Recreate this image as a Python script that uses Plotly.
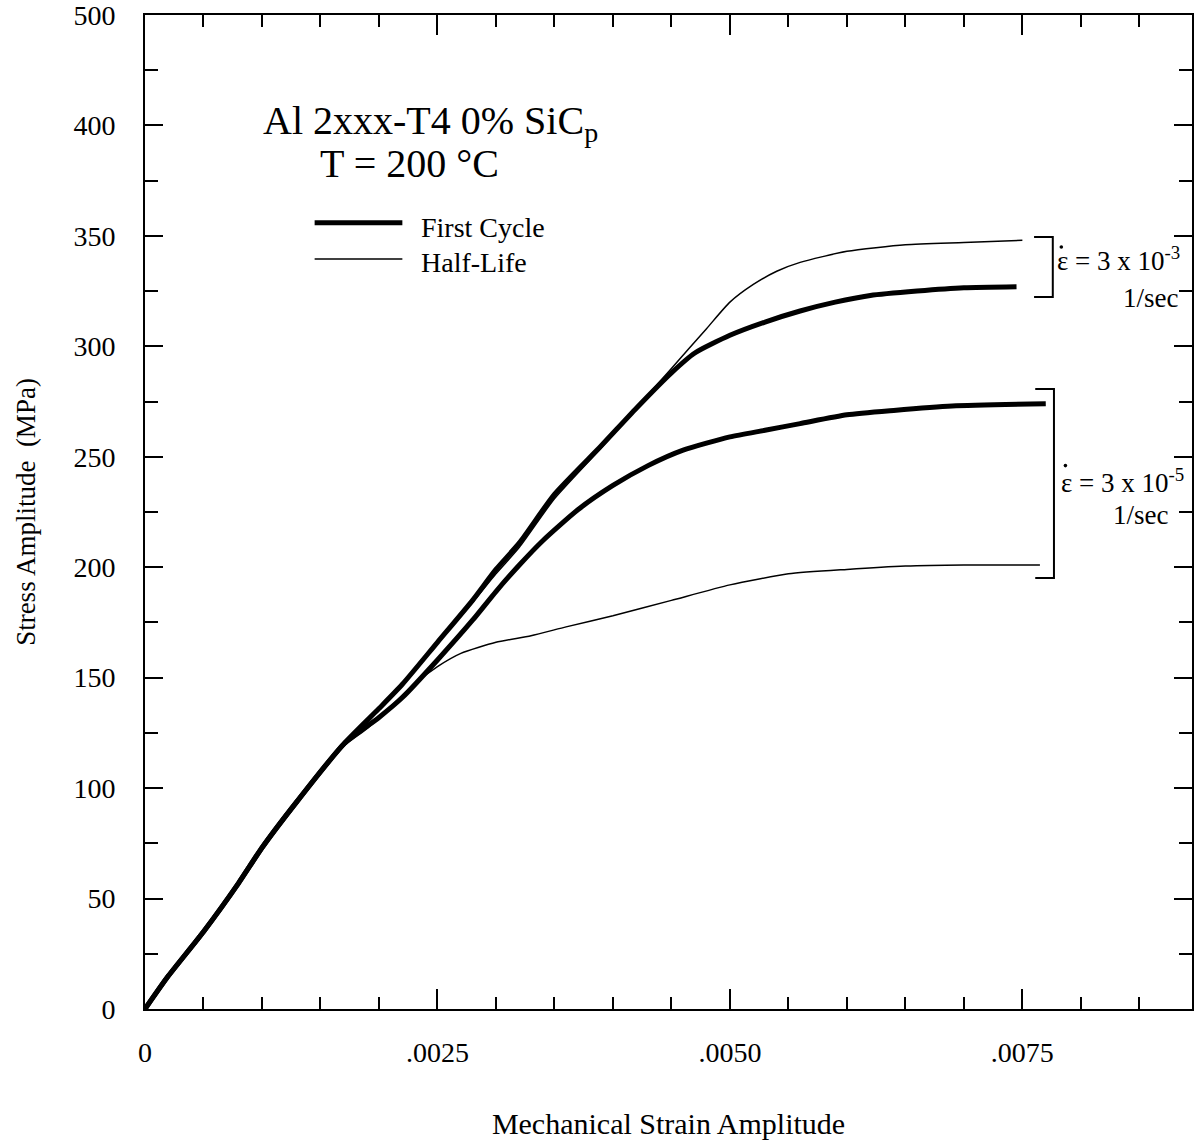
import plotly.graph_objects as go

# ---- data ----
fc_fast_x = [0, 0.0002, 0.0005, 0.0008, 0.0010, 0.0013, 0.0017, 0.0020, 0.0022, 0.0025, 0.0028, 0.0030, 0.0032,
             0.0035, 0.0039, 0.0042, 0.0045, 0.0047, 0.0050, 0.0053, 0.0056, 0.0059, 0.0062, 0.0066, 0.0070, 0.00745]
fc_fast_y = [0, 15, 35, 57, 73, 94, 120, 136, 147, 166, 185, 199, 211,
             233, 255, 272, 288, 297, 305, 311, 316, 320, 323, 325, 326.5, 327]

hl_fast_x = [0, 0.0002, 0.0005, 0.0008, 0.0010, 0.0013, 0.0017, 0.0020, 0.0022, 0.0025, 0.0028, 0.0030, 0.0032,
             0.0035, 0.0039, 0.0042, 0.0045, 0.0048, 0.0050, 0.0052, 0.0054, 0.0056, 0.0060, 0.0065, 0.0070, 0.0075]
hl_fast_y = [0, 15, 35, 57, 73, 94, 120, 136, 147, 166, 184, 197, 209,
             231, 254, 272, 290, 308, 320, 328, 334, 338, 343, 346, 347, 348]

fc_slow_x = [0, 0.0002, 0.0005, 0.0008, 0.0010, 0.0013, 0.0017, 0.0020, 0.0022, 0.0025, 0.0028, 0.0030, 0.0032,
             0.0034, 0.0037, 0.0040, 0.0043, 0.0046, 0.0050, 0.0053, 0.0056, 0.0060, 0.0064, 0.0069, 0.0077]
fc_slow_y = [0, 15, 35, 57, 73, 94, 120, 132, 141, 158, 176, 189, 201,
             212, 226, 237, 246, 253, 259, 262, 265, 269, 271, 273, 274]

hl_slow_x = [0, 0.0002, 0.0005, 0.0008, 0.0010, 0.0013, 0.0017, 0.0019, 0.0021, 0.0023, 0.0025, 0.0027, 0.0030,
             0.0033, 0.0036, 0.0040, 0.0045, 0.0050, 0.0055, 0.0060, 0.0065, 0.0070, 0.00765]
hl_slow_y = [0, 15, 35, 57, 73, 94, 119, 127, 137, 147, 155, 161, 166,
             169, 173, 178, 185, 192, 197, 199, 200.5, 201, 201]

x_tick_vals = [0, 0.0025, 0.0050, 0.0075]
x_tick_text = ["0", ".0025", ".0050", ".0075"]
y_tick_vals = [0, 50, 100, 150, 200, 250, 300, 350, 400, 450]
y_tick_text = ["0", "50", "100", "150", "200", "250", "300", "350", "400", "500"]

FONT = "Liberation Serif"
THICK = 5
THIN = 1.5

fig = go.Figure()
for xs, ys, w in [(fc_fast_x, fc_fast_y, THICK), (hl_fast_x, hl_fast_y, THIN),
                  (fc_slow_x, fc_slow_y, THICK), (hl_slow_x, hl_slow_y, THIN)]:
    fig.add_trace(go.Scatter(x=xs, y=ys, mode="lines", line=dict(color="black", width=w, shape="spline", smoothing=0.6),
                             showlegend=False, hoverinfo="skip"))

axis_common = dict(showline=True, linecolor="black", linewidth=2, mirror="ticks", ticks="inside",
                   tickcolor="black", tickwidth=2, showgrid=False, zeroline=False,
                   ticklabeloverflow="allow",
                   tickfont=dict(family=FONT, size=28, color="black"))

fig.update_xaxes(range=[0, 0.00895], tickvals=x_tick_vals, ticktext=x_tick_text, ticklen=20,
                 minor=dict(dtick=0.0005, ticklen=12, ticks="inside", tickcolor="black", tickwidth=2),
                 ticklabelstandoff=17,
                 title=dict(text="Mechanical Strain Amplitude", font=dict(family=FONT, size=30, color="black"),
                            standoff=46),
                 **axis_common)
fig.update_yaxes(range=[0, 450], tickvals=y_tick_vals, ticktext=y_tick_text, ticklen=18,
                 minor=dict(dtick=25, ticklen=13, ticks="inside", tickcolor="black", tickwidth=2),
                 ticklabelstandoff=22,
                 title=dict(text="Stress Amplitude  (MPa)", font=dict(family=FONT, size=27, color="black"),
                            standoff=30),
                 **axis_common)

ann = []
ann.append(dict(x=0.00244, y=401, text="Al 2xxx-T4 0% SiC<sub>p</sub>", showarrow=False,
                font=dict(family=FONT, size=40, color="black")))
ann.append(dict(x=0.00226, y=383, text="T = 200 °C", showarrow=False,
                font=dict(family=FONT, size=40, color="black")))
ann.append(dict(x=0.00234, y=354, text="First Cycle", showarrow=False, xanchor="left",
                font=dict(family=FONT, size=28, color="black")))
ann.append(dict(x=0.00234, y=338, text="Half-Life", showarrow=False, xanchor="left",
                font=dict(family=FONT, size=28, color="black")))
# strain-rate labels
rate_labels = [(0.00778, 339.5, "ε = 3 x 10<sup>-3</sup>", 0.00885, 322),
               (0.00781, 239, "ε = 3 x 10<sup>-5</sup>", 0.00876, 223.6)]
for (xe, ye, txt, xs_, ys_) in rate_labels:
    ann.append(dict(x=xe, y=ye, text=txt, showarrow=False, xanchor="left",
                    font=dict(family=FONT, size=27, color="black")))
    ann.append(dict(x=xs_, y=ys_, text="1/sec", showarrow=False, xanchor="right",
                    font=dict(family=FONT, size=27, color="black")))

shapes = []
# legend samples
shapes.append(dict(type="line", x0=0.00145, x1=0.00220, y0=356, y1=356, line=dict(color="black", width=THICK)))
shapes.append(dict(type="line", x0=0.00145, x1=0.00220, y0=339.5, y1=339.5, line=dict(color="black", width=THIN)))
# brackets
for (xl, xr, yt, yb) in [(0.00760, 0.00776, 349.5, 322.3), (0.00761, 0.00777, 280.7, 195.1)]:
    shapes.append(dict(type="path", path=f"M {xl} {yt} L {xr} {yt} L {xr} {yb} L {xl} {yb}",
                       line=dict(color="black", width=2)))
# rate dots over epsilon
for (dx, dy) in [(0.007833, 345.0), (0.007868, 246.0)]:
    shapes.append(dict(type="circle", xref="x", yref="y", xsizemode="pixel", ysizemode="pixel",
                       xanchor=dx, yanchor=dy, x0=-1.8, x1=1.8, y0=-1.8, y1=1.8,
                       fillcolor="black", line=dict(color="black", width=0)))

fig.update_layout(width=1194, height=1143, margin=dict(l=145, r=0, t=15, b=134),
                  plot_bgcolor="white", paper_bgcolor="white", annotations=ann, shapes=shapes,
                  font=dict(family=FONT, color="black"))

fig.write_html("out.html")
